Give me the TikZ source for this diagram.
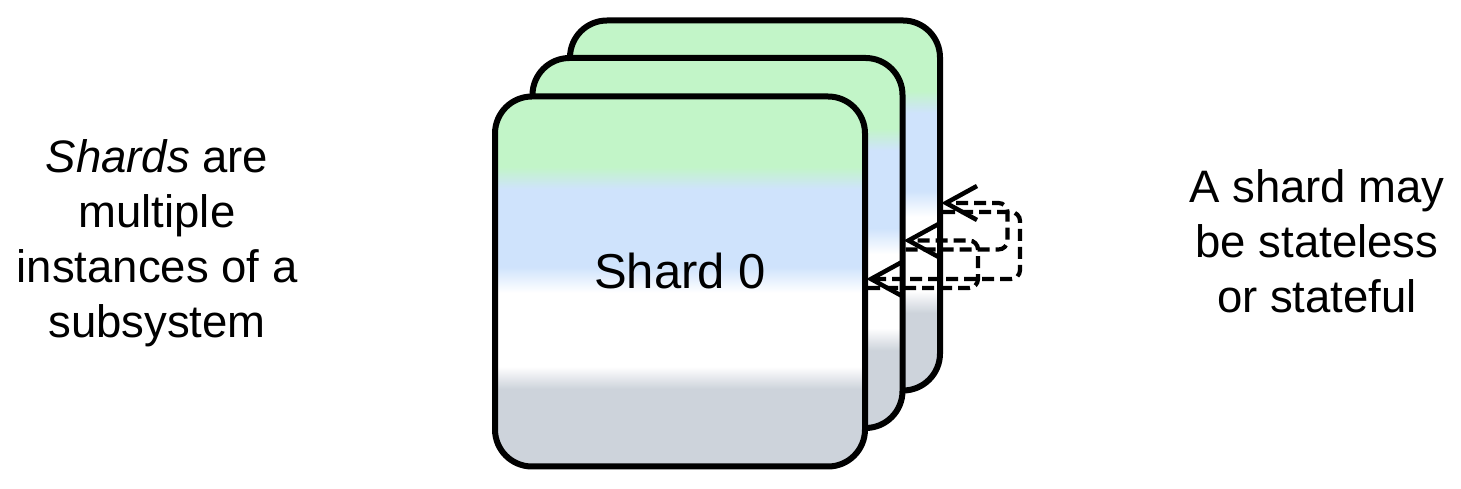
\documentclass[tikz,border=0pt]{standalone}
\usepackage{fontspec}
\setmainfont{Liberation Sans}
\definecolor{shardgreen}{HTML}{C2F5C8}
\definecolor{shardblue}{HTML}{CFE3FC}
\definecolor{shardgrey}{HTML}{CDD3DB}
\pgfdeclareverticalshading{shardfill}{100bp}{color(0bp)=(shardgrey); color(35.5bp)=(shardgrey); color(38.5bp)=(white); color(48.5bp)=(white); color(52bp)=(shardblue); color(62.5bp)=(shardblue); color(65.5bp)=(shardgreen); color(100bp)=(shardgreen)}
\begin{document}
\begin{tikzpicture}[x=1pt,y=1pt,
    shard/.style={draw=black,line width=6pt,rounded corners=37pt,shading=shardfill,minimum width=370pt,minimum height=370pt,inner sep=0pt},
    link/.style={draw=black,line width=4.2pt,dash pattern=on 12pt off 6pt,rounded corners=9pt},
    linktip/.style={draw=black,line width=4.5pt,line join=miter},
    side/.style={align=center,font=\fontsize{45.5}{55}\selectfont}]
    \useasboundingbox (0,0) rectangle (1461,489);
    \node[shard] (back) at (755,283.5) {};
    \node[shard] (middle) at (717.5,246) {};
    \node[shard] (front) at (680,207.5) {};
    \node[font=\fontsize{49}{58}\selectfont] (shardlabel) at (680,218) {Shard 0};
    \draw[link] ([yshift=-6.5pt]front.east) -- ++(110,0) |- ([xshift=6pt,yshift=2.5pt]middle.east);
    \draw[link] ([yshift=-6.5pt]middle.east) -- ++(102,0) |- ([xshift=6pt,yshift=2.5pt]back.east);
    \draw[link] ([yshift=-6.5pt]back.east) -- ++(77,0) |- ([xshift=6pt,yshift=2.5pt]front.east);
    \draw[linktip] ([xshift=34pt,yshift=19.5pt]middle.east) -- ([xshift=3pt,yshift=2.5pt]middle.east) -- ([xshift=34pt,yshift=-14.5pt]middle.east);
    \draw[linktip] ([xshift=34pt,yshift=19.5pt]back.east) -- ([xshift=3pt,yshift=2.5pt]back.east) -- ([xshift=34pt,yshift=-14.5pt]back.east);
    \draw[linktip] ([xshift=34pt,yshift=19.5pt]front.east) -- ([xshift=3pt,yshift=2.5pt]front.east) -- ([xshift=34pt,yshift=-14.5pt]front.east);
    \node[side] (lefttext) at (157,246) {\textit{Shards} are\\multiple\\instances of a\\subsystem};
    \node[side] (righttext) at (1317,248) {A shard may\\be stateless\\or stateful};
\end{tikzpicture}
\end{document}
